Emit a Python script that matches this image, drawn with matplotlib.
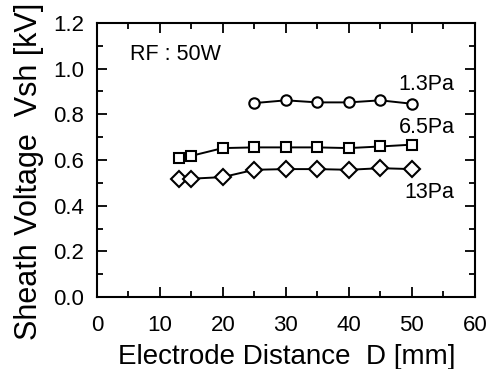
import matplotlib
matplotlib.use("Agg")
import matplotlib.pyplot as plt
from matplotlib.ticker import MultipleLocator

plt.rcParams['font.family'] = ['Liberation Sans', 'DejaVu Sans']

# data
d_13 = [25, 30, 35, 40, 45, 50]
v_13 = [0.849, 0.861, 0.852, 0.852, 0.861, 0.846]
d_65 = [13, 15, 20, 25, 30, 35, 40, 45, 50]
v_65 = [0.608, 0.618, 0.652, 0.655, 0.655, 0.655, 0.652, 0.659, 0.667]
d_130 = [13, 15, 20, 25, 30, 35, 40, 45, 50]
v_130 = [0.518, 0.518, 0.525, 0.557, 0.560, 0.560, 0.557, 0.564, 0.560]
labels = ["1.3Pa", "6.5Pa", "13Pa"]

fig = plt.figure(figsize=(4.89, 3.69), dpi=100)
ax = fig.add_axes([0.198, 0.195, 0.773, 0.743])

ax.plot(d_13, v_13, "-o", color="black", mfc="white", mew=1.5, ms=7.5, lw=1.4)
ax.plot(d_65, v_65, "-s", color="black", mfc="white", mew=1.5, ms=7.5, lw=1.4)
ax.plot(d_130, v_130, "-D", color="black", mfc="white", mew=1.5, ms=8, lw=1.4)

ax.text(56.8, 0.93, labels[0], fontsize=15.5, ha="right", va="center")
ax.text(56.8, 0.741, labels[1], fontsize=15.5, ha="right", va="center")
ax.text(56.8, 0.456, labels[2], fontsize=15.5, ha="right", va="center")
ax.text(5.2, 1.061, "RF : 50W", fontsize=15.5, ha="left", va="center")

ax.set_xlim(0, 60)
ax.set_ylim(0, 1.2)
ax.xaxis.set_major_locator(MultipleLocator(10))
ax.xaxis.set_minor_locator(MultipleLocator(5))
ax.yaxis.set_major_locator(MultipleLocator(0.2))
ax.yaxis.set_minor_locator(MultipleLocator(0.1))
ax.set_yticklabels([f"{v:.1f}" for v in ax.get_yticks()])
ax.tick_params(which="both", direction="in", top=True, right=True, width=1.3)
ax.tick_params(which="major", length=7, labelsize=16)
ax.tick_params(axis="x", which="major", pad=13)
ax.tick_params(axis="y", which="major", pad=9)
ax.tick_params(which="minor", length=4)
for s in ax.spines.values():
    s.set_linewidth(1.5)

ax.set_xlabel("Electrode Distance  D [mm]", fontsize=20)
ax.set_ylabel("Sheath Voltage  Vsh [kV]", fontsize=22)
ax.xaxis.set_label_coords(0.503, -0.172)
ax.yaxis.set_label_coords(-0.14, 0.46)

fig.savefig("out.png", dpi=100)
